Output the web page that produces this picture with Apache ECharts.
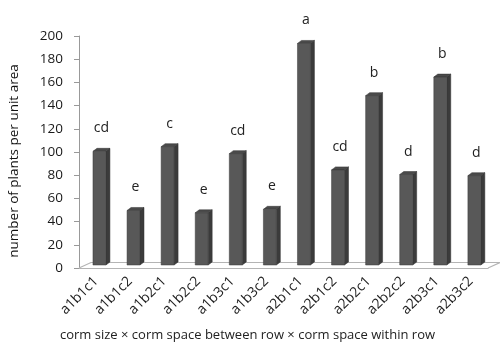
<!DOCTYPE html>
<html>
<head>
<meta charset="utf-8">
<script src="https://cdn.jsdelivr.net/npm/echarts@6/dist/echarts.min.js"></script>
<style>html,body{margin:0;padding:0;background:#fff}#c{width:500px;height:348px}</style>
</head>
<body>
<div id="c"></div>
<script>
const categories = ['a1b1c1','a1b1c2','a1b2c1','a1b2c2','a1b3c1','a1b3c2','a2b1c1','a2b1c2','a2b2c1','a2b2c2','a2b3c1','a2b3c2'];
const values = [98, 47, 102, 45, 96, 48, 191, 82, 146, 78, 162, 77];
const letters = ['cd','e','c','e','cd','e','a','cd','b','d','b','d'];
const yTicks = [0, 200, 20];
const yName = 'number of plants per unit area';
const xName = 'corm size \u00d7 corm space between row \u00d7 corm space within row';

const FONT = 'Open Sans';
const chart = echarts.init(document.getElementById('c'), null, {renderer: 'canvas'});

function barItem(params, api) {
  const idx = api.value(0), v = api.value(1);
  const top = api.coord([idx, v]);
  const base = api.coord([idx, 0]);
  const bw = api.size([1, 0])[0];
  const cx = top[0];
  const xl = cx - bw * 0.09, xr = cx + bw * 0.29;
  const dx = 4, dy = 3;
  const yT = top[1] - 3, yB = base[1] - 3;
  return {
    type: 'group',
    children: [
      {type: 'polygon', shape: {points: [[xr, yT], [xr + dx, yT - dy], [xr + dx, yB - dy], [xr, yB]]},
       style: {fill: '#3b3b3b', stroke: '#333', lineWidth: 0.5}},
      {type: 'polygon', shape: {points: [[xl, yT], [xl + dx, yT - dy], [xr + dx, yT - dy], [xr, yT]]},
       style: {fill: '#4a4a4a', stroke: '#333', lineWidth: 0.5}},
      {type: 'rect', shape: {x: xl, y: yT, width: xr - xl, height: yB - yT},
       style: {fill: '#585858', stroke: '#3a3a3a', lineWidth: 0.5}},
      {type: 'text', style: {text: letters[idx], x: (xl + xr) / 2 + 2, y: yT - 23,
        align: 'center', verticalAlign: 'middle', fill: '#222', font: '14px "' + FONT + '"'}}
    ]
  };
}

function floorItem(params, api) {
  const c0 = api.coord([0, 0]);
  const bw = api.size([1, 0])[0];
  const L = c0[0] - bw / 2, R = L + bw * categories.length;
  const y = c0[1];
  const dx = 12, dy = 5.5;
  const st = {stroke: '#b4b4b4', lineWidth: 1.2, fill: null};
  return {
    type: 'group',
    children: [
      {type: 'polyline', shape: {points: [[L, y], [L + dx, y - dy], [R + dx, y - dy], [R, y]]}, style: st}
    ]
  };
}

chart.setOption({
  animation: false,
  grid: {left: 79, right: 12, top: 36, bottom: 80, containLabel: false, outerBoundsMode: 'none'},
  xAxis: {
    type: 'category',
    data: categories,
    axisLine: {lineStyle: {color: '#b4b4b4', width: 1.2}},
    axisTick: {length: 4, lineStyle: {color: '#999'}},
    axisLabel: {rotate: 45, margin: 11, color: '#222', fontSize: 14, fontFamily: FONT}
  },
  yAxis: {
    type: 'value',
    min: yTicks[0], max: yTicks[1], interval: yTicks[2],
    axisLine: {show: true, lineStyle: {color: '#999'}},
    axisTick: {show: true, length: 5, lineStyle: {color: '#999'}},
    axisLabel: {margin: 16, color: '#1a1a1a', fontSize: 13.5, fontFamily: FONT},
    splitLine: {show: false}
  },
  graphic: [{
    type: 'text', left: 60, top: 329,
    style: {text: xName, fill: '#222', font: '13px "' + FONT + '"'}
  }, {
    type: 'text', x: 14, y: 161, rotation: Math.PI / 2,
    style: {text: yName, fill: '#111', font: '13.5px "' + FONT + '"', align: 'center', verticalAlign: 'middle'}
  }],
  series: [
    {type: 'custom', renderItem: floorItem, data: [[0, 0]], z: 1, silent: true},
    {type: 'custom', renderItem: barItem, data: values.map((v, i) => [i, v]), z: 2}
  ]
});
</script>
</body>
</html>
